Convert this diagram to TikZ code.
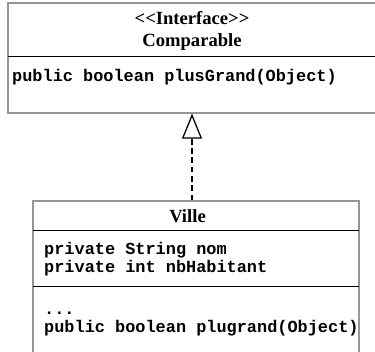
\documentclass[tikz,border=0pt]{standalone}
\usepackage{fontspec}
\setmainfont{Liberation Serif}
\setmonofont{Liberation Mono}
\usepackage{xcolor}
\usetikzlibrary{arrows.meta,positioning,calc}
\definecolor{boxgray}{RGB}{150,150,150}

\begin{document}
\begin{tikzpicture}[x=1pt, y=1pt,
        classbox/.style={rectangle, draw=boxgray, line width=1.2pt, inner sep=0pt},
        titletext/.style={font=\fontsize{18.6}{22}\selectfont\bfseries, anchor=base, inner sep=0pt},
        membertext/.style={font=\fontsize{16.9}{18.5}\selectfont\ttfamily\bfseries, anchor=base west, inner sep=0pt},
        divider/.style={line width=1pt, black},
        realise/.style={-{Triangle[open, length=25pt, width=20pt, fill=white]}, line width=1.3pt, dash pattern=on 5.7pt off 3.6pt}
    ]
        \clip (0,0) rectangle (375,352);

        % Interface Comparable
        \node[classbox, minimum width=368pt, minimum height=110pt] (comparable) at (192,294) {};
        \node[titletext] (stereo) at (192,327) {{<}{<}Interface{>}{>}};
        \node[titletext] (compname) at (192,305) {Comparable};
        \draw[divider] (8,295) -- (376,295);
        \node[membertext] (plusgrand) at (12,270) {public boolean plusGrand(Object)};

        % Class Ville
        \node[classbox, minimum width=326pt, minimum height=171pt] (ville) at (196,65.5) {};
        \node[titletext] (villename) at (187.5,129) {Ville};
        \draw[divider] (33,121) -- (359,121);
        \node[membertext] (nom) at (44,97) {private String nom};
        \node[membertext] (nbhab) at (44,79) {private int nbHabitant};
        \draw[divider] (33,65) -- (359,65);
        \node[membertext] (dots) at (44,37) {...};
        \node[membertext] (plugrand) at (44,19) {public boolean plugrand(Object)};

        % Realisation
        \draw[realise] (ville.north -| comparable.south) -- (comparable.south);
    \end{tikzpicture}
\end{document}
